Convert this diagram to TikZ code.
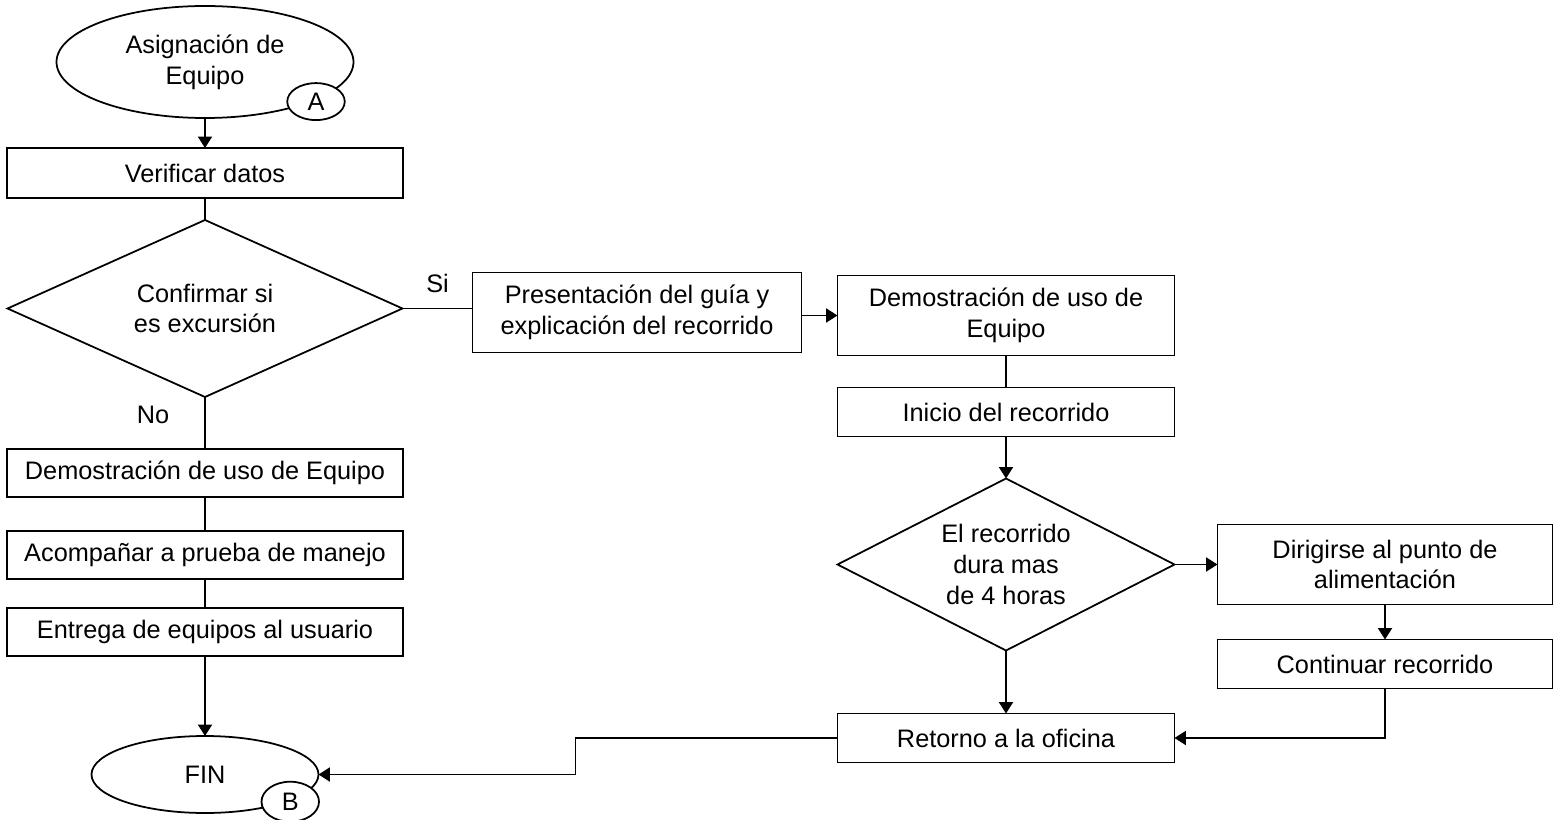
\documentclass[tikz,border=0pt]{standalone}
\usepackage{fontspec}
\setmainfont{Liberation Sans}
\usetikzlibrary{shapes.geometric, arrows.meta, positioning}
\tikzstyle{arrow} = [
  -{Triangle[length=6.5pt,width=8pt]}, line width=1pt, color=black
]
\tikzstyle{link} = [line width=1pt, color=black]

\begin{document}
\begin{tikzpicture}[
  every node/.style={font=\fontsize{14.4}{17.5}\selectfont, outer sep=0pt},
  box/.style={rectangle, draw, line width=1pt, minimum width=7.92cm,
              minimum height=0.96cm, text centered, align=center, inner sep=2pt},
  decision/.style={diamond, draw, line width=1pt, align=center, inner sep=0pt},
  start/.style={ellipse, draw, line width=1pt, align=center,
                minimum width=5.94cm, minimum height=2.24cm},
  stop/.style={ellipse, draw, line width=1pt,
               minimum width=4.54cm, minimum height=1.54cm},
  marker/.style={ellipse, draw, fill=white, line width=1pt,
                 minimum width=1.15cm, inner sep=0pt},
]
  \useasboundingbox (0,0) rectangle (31.08,-16.4);

  % left column
  \node[start] (start) at (4.1,-1.24) {Asignación de\\Equipo};
  \node[marker, minimum height=0.74cm] (mA) at ([xshift=0.12cm]start.south east) {A};
  \node[box, minimum height=1.0cm, below=0.6cm of start]
    (verif)   {Verificar datos};
  \node[decision, minimum width=7.9cm, minimum height=3.54cm, aspect=2.23,
        below=0.44cm of verif]
    (excur)   {Confirmar si\\es excursión};
  \node[box, below=1.04cm of excur]
    (demoL)   {Demostración de uso de Equipo};
  \node[box, below=0.68cm of demoL]
    (acomp)   {Acompañar a prueba de manejo};
  \node[box, below=0.58cm of acomp]
    (entrega) {Entrega de equipos al usuario};
  \node[stop, below=1.6cm of entrega] (fin) {FIN};
  \node[marker, minimum height=0.8cm] (mB) at ([xshift=0.1cm]fin.south east) {B};

  % right side
  \node[box, minimum width=6.58cm, minimum height=1.6cm, right=1.4cm of excur,
        yshift=-0.08cm]
    (pres)    {Presentación del guía y\\explicación del recorrido};
  \node[box, minimum width=6.74cm, minimum height=1.6cm, right=0.72cm of pres,
        yshift=-0.06cm]
    (demoR)   {Demostración de uso de\\Equipo};
  \node[box, minimum width=6.74cm, minimum height=0.98cm, below=0.64cm of demoR]
    (inicio)  {Inicio del recorrido};
  \node[decision, minimum width=6.74cm, minimum height=3.44cm, aspect=1.96,
        below=0.84cm of inicio]
    (horas)   {El recorrido\\dura mas\\de 4 horas};
  \node[box, minimum width=6.7cm, minimum height=1.6cm, right=0.86cm of horas]
    (alim)    {Dirigirse al punto de\\alimentación};
  \node[box, minimum width=6.7cm, minimum height=0.98cm, below=0.7cm of alim]
    (cont)    {Continuar recorrido};
  \node[box, minimum width=6.74cm, minimum height=0.98cm, below=1.26cm of horas]
    (ret)     {Retorno a la oficina};

  \draw[arrow] (start)   -- (verif);
  \draw[link]  (verif)   -- (excur);
  \draw[link]  (excur)   -- node[above, yshift=0.2cm]{Si} (excur.east -| pres.west);
  \draw[link]  (excur)   -- node[left=0.6cm, pos=0.35]{No} (demoL);
  \draw[link]  (demoL)   -- (acomp);
  \draw[link]  (acomp)   -- (entrega);
  \draw[arrow] (entrega) -- (fin);
  \draw[arrow] (pres.east |- demoR.west) -- (demoR.west);
  \draw[link]  (demoR)   -- (inicio);
  \draw[arrow] (inicio)  -- (horas);
  \draw[arrow] (horas)   -- (alim);
  \draw[arrow] (alim)    -- (cont);
  \draw[arrow] (horas)   -- (ret);
  \draw[arrow] (cont)    |- (ret);
  \draw[arrow] (ret.west) -- ++(-5.24,0) |- (fin.east);
\end{tikzpicture}
\end{document}
